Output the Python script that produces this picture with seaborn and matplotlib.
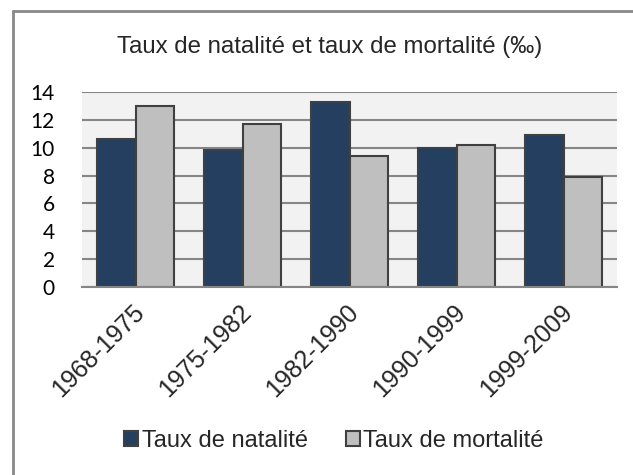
import pandas as pd
import matplotlib.pyplot as plt
import matplotlib.transforms as mtransforms
from matplotlib.lines import Line2D
import seaborn as sns


# -----------------------------
# DATA
# -----------------------------
periodes = ["1968-1975", "1975-1982", "1982-1990", "1990-1999", "1999-2009"]
natalite = [10.6, 9.8, 13.3, 10.0, 10.9]
mortalite = [13.0, 11.7, 9.4, 10.2, 7.9]
series = ["Taux de natalité", "Taux de mortalité"]

df = pd.DataFrame({
    "periode": periodes * 2,
    "taux": natalite + mortalite,
    "serie": [series[0]] * len(periodes) + [series[1]] * len(periodes)
})


# -----------------------------
# STYLE
# -----------------------------
sns.set_style("white")
plt.rcParams["font.family"] = ["Liberation Sans", "DejaVu Sans"]

W, H = 633, 475
fig = plt.figure(figsize=(W / 100, H / 100), dpi=100)
ax = fig.add_axes([82 / W, 1 - 287 / H, (617 - 82) / W, (287 - 92) / H])
ax.set_facecolor("#F2F2F2")


# -----------------------------
# BARS
# -----------------------------
sns.barplot(
    data=df,
    x="periode",
    y="taux",
    hue="serie",
    palette=["#243F60", "#BFBFBF"],
    width=0.72,
    gap=0,
    edgecolor="#404040",
    linewidth=1.5,
    saturation=1,
    legend=True,
    ax=ax
)

ax.set_ylim(0, 14)
ax.set_yticks(range(0, 15, 2))
ax.yaxis.grid(True, color="#868686", linewidth=1.5)
ax.set_axisbelow(True)
for s in ["top", "right", "left"]:
    ax.spines[s].set_visible(False)
ax.spines["bottom"].set_color("#868686")
ax.spines["bottom"].set_linewidth(1.5)
ax.tick_params(axis="both", length=0)
ax.tick_params(axis="y", pad=19.5)
ax.tick_params(axis="x", pad=0)
ax.set_xlabel("")
ax.set_ylabel("")

for lab in ax.get_yticklabels():
    lab.set_fontfamily(["Lato", "DejaVu Sans"])
    lab.set_fontsize(15)
    lab.set_color("black")

offset = mtransforms.ScaledTranslation(-0.03, -0.13, fig.dpi_scale_trans)
for lab in ax.get_xticklabels():
    lab.set_rotation(45)
    lab.set_ha("right")
    lab.set_va("top")
    lab.set_rotation_mode("anchor")
    lab.set_fontsize(18)
    lab.set_transform(lab.get_transform() + offset)


# -----------------------------
# TITLE, LEGEND, FRAME
# -----------------------------
fig.text(330 / W, 1 - 53 / H, "Taux de natalité et taux de mortalité (‰)",
         ha="center", va="baseline", fontsize=17.3)

handles, labels = ax.get_legend_handles_labels()
ax.get_legend().remove()
fig.legend(
    handles, labels,
    loc="center",
    bbox_to_anchor=(334 / W, 1 - 441 / H),
    ncol=2,
    frameon=False,
    fontsize=17,
    handlelength=0.6,
    handleheight=0.6,
    handletextpad=0.15,
    columnspacing=1.6,
    borderpad=0
)

fig.add_artist(Line2D([12.5 / W, 12.5 / W], [0, 1 - 10.5 / H],
                      transform=fig.transFigure, color="#898989", linewidth=2))
fig.add_artist(Line2D([12.5 / W, 1], [1 - 10.5 / H, 1 - 10.5 / H],
                      transform=fig.transFigure, color="#898989", linewidth=2))

plt.savefig("out.png", dpi=100)
